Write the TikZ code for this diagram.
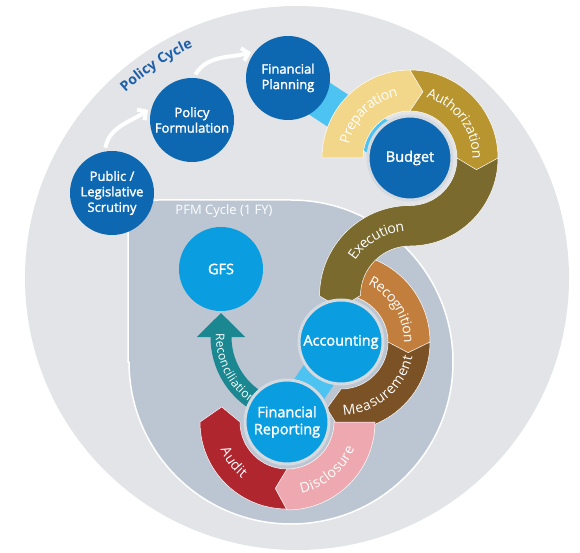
\documentclass[tikz,border=0pt]{standalone}
\usepackage{fontspec}
\setmainfont{Open Sans}
\newfontfamily\labelfont{Open Sans}[FakeBold=1.8]
\usetikzlibrary{arrows.meta,backgrounds,decorations.text}

\definecolor{bggray}{HTML}{E3E4E7}
\definecolor{pfmgray}{HTML}{BCC6D3}
\definecolor{polblue}{HTML}{0D68B1}
\definecolor{pfmblue}{HTML}{0A9DE0}
\definecolor{linkblue}{HTML}{4CC3F1}
\definecolor{ringgray}{HTML}{D5DAE1}
\definecolor{prepcol}{HTML}{F2D68A}
\definecolor{authcol}{HTML}{B8952F}
\definecolor{execcol}{HTML}{7A6A2E}
\definecolor{recogcol}{HTML}{C27E3C}
\definecolor{meascol}{HTML}{7B5226}
\definecolor{disccol}{HTML}{EDA9AF}
\definecolor{auditcol}{HTML}{B0262F}
\definecolor{reconcol}{HTML}{1A8791}
\definecolor{titleblue}{HTML}{1D5FA8}

\newcommand\bandfont{\fontsize{14}{16}\selectfont}
\newcommand\reconfont{\fontsize{12}{14}\selectfont}
\newcommand\titlefont{\fontsize{14}{16}\selectfont\bfseries}
% ring piece: centre, inner r, outer r, from, to, chevron tip angle
\newcommand\ringseg[6]{([shift={(#4:#3)}]#1) arc[start angle=#4, end angle=#5, radius=#3]
  -- ([shift={(#6:{(#2+#3)/2})}]#1)
  -- ([shift={(#5:#2)}]#1) arc[start angle=#5, end angle=#4, radius=#2] -- cycle}

\tikzset{
  stage/.style={circle, minimum size=84pt, inner sep=0pt, outer sep=0pt, text=white, align=center},
  policy/.style={stage, fill=polblue, font=\labelfont\fontsize{13}{15.5}\selectfont},
  pfm/.style={stage, fill=pfmblue, font=\labelfont\fontsize{14.5}{17}\selectfont},
  ringed/.style={draw=ringgray, line width=3pt},
  link/.style={linkblue, line width=38pt},
  flow/.style={white, line width=4pt, shorten <=4pt, shorten >=5pt, -{Straight Barb[length=6pt,width=13pt]}},
  band/.style={draw=white, line width=0.5pt},
  bandtext/.style={decorate, decoration={text along path, text align=center, text color=white, raise=-5pt, text={|\bandfont|#1}}},
}

\begin{document}
\begin{tikzpicture}[x=1pt, y=1pt]
\useasboundingbox (0,0) rectangle (580,-553);

\coordinate (bigc) at (297,-278);
\coordinate (execc) at (410,-296);
\coordinate (recc) at (296,-337);

% policy cycle
\node[policy] (pub) at (112,-193) {Public /\\Legislative\\Scrutiny};
\node[policy] (pol) at (192,-120) {Policy\\Formulation};
\node[policy] (fp) at (288,-78) {Financial\\Planning};
\node[policy, ringed, font=\labelfont\fontsize{14.5}{17}\selectfont] (bud) at (410,-158) {Budget};

% pfm cycle
\node[text=white, font=\fontsize{13}{15}\selectfont] (pfmlbl) at (224,-211) {PFM Cycle (1 FY)};
\node[pfm] (gfs) at (221,-269) {GFS};
\node[pfm, ringed] (acc) at (341,-342) {Accounting};
\node[pfm, ringed] (frp) at (287,-422) {Financial\\Reporting};

\begin{scope}[on background layer]
  \fill[bggray] (bigc) circle[radius=272];
  \path[fill=pfmgray, draw=white, line width=1.5pt] (128,-362) -- (128,-230) arc[start angle=180, end angle=90, radius=30]
    -- (291,-200) arc[start angle=90, end angle=-180, radius=162] -- cycle;

  \path[decorate, decoration={text along path, text align=center, text color=titleblue, text={|\titlefont|Policy Cycle}}]
    ([shift={(148:253)}]bigc) arc[start angle=148, end angle=99, radius=253];

  \draw[link] (fp.center) -- (bud.center);
  \draw[link, line width=36pt] (acc.center) -- (frp.center);

  \draw[flow] (pub.100) to[out=80, in=-145] (pol.162);
  \draw[flow] (pol.88) to[out=60, in=195] (fp.140);

  \draw[reconcol, line width=21pt, shorten >=2pt, -{Triangle[length=24pt,width=47pt]}]
    ([shift={(240:75)}]recc) arc[start angle=240, end angle=180, radius=75] -- (gfs.south);

  % bands round the circles
  \path[fill=meascol, band] \ringseg{acc.center}{47}{89}{0}{-90}{-102};
  \path[fill=recogcol, band] \ringseg{acc.center}{47}{89}{90}{0}{-9};
  \path[fill=execcol, band] ([shift={(0:88)}]bud.center) arc[start angle=0, end angle=-90, radius=88]
    arc[start angle=90, end angle=180, radius=49.5]
    -- ([shift={(-70,-12)}]execc) -- ([shift={(180:90.5)}]execc)
    arc[start angle=180, end angle=90, radius=90.5]
    arc[start angle=-90, end angle=0, radius=47] -- cycle;
  \path[fill=authcol, band] \ringseg{bud.center}{47}{88}{90}{0}{-10};
  \path[fill=prepcol, band] \ringseg{bud.center}{47}{88}{180}{90}{79};
  \path[fill=auditcol, band] \ringseg{frp.center}{47}{87}{-90}{-180}{-193};
  \path[fill=disccol, band] \ringseg{frp.center}{47}{88}{0}{-90}{-100};

  \path[bandtext=Preparation] ([shift={(180:67.5)}]bud.center) arc[start angle=180, end angle=88, radius=67.5];
  \path[bandtext=Authorization] ([shift={(86:67.5)}]bud.center) arc[start angle=86, end angle=-12, radius=67.5];
  \path[bandtext=Execution] ([shift={(157:70)}]execc) arc[start angle=157, end angle=85, radius=70];
  \path[bandtext=Recognition] ([shift={(72:68)}]acc.center) arc[start angle=72, end angle=-8, radius=68];
  \path[bandtext=Measurement] ([shift={(-101:68)}]acc.center) arc[start angle=-101, end angle=1, radius=68];
  \path[bandtext=Disclosure] ([shift={(-92:67.5)}]frp.center) arc[start angle=-92, end angle=-8, radius=67.5];
  \path[bandtext=Audit] ([shift={(-176:67)}]frp.center) arc[start angle=-176, end angle=-110, radius=67];
  \path[bandtext=Reconciliation, decoration={text={|\reconfont|Reconciliation}}]
    ([shift={(170:75)}]recc) arc[start angle=170, end angle=244, radius=75];
\end{scope}
\end{tikzpicture}
\end{document}
